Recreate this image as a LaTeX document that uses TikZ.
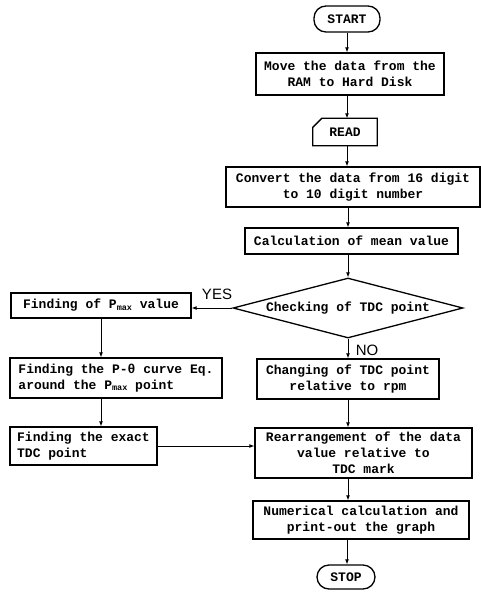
\documentclass[tikz,border=0pt]{standalone}
\usepackage{fontspec}
\setmainfont{Liberation Mono}
\newfontfamily\yesnofont{Liberation Sans}
\usetikzlibrary{arrows.meta,shapes.geometric}
\newcommand{\Pmx}{P\raisebox{-1.5pt}{\fontsize{8.5}{9}\selectfont max}}

\begin{document}
\begin{tikzpicture}[x=1pt, y=-1pt, every node/.style={font=\fontsize{13}{16}\selectfont\bfseries}, >={Latex[length=5pt,width=4pt]},
	box/.style={draw, line width=1.3pt, inner sep=2pt, align=center},
	term/.style={draw, line width=1.3pt, rounded corners=12pt, inner sep=2pt},
	arr/.style={->, line width=0.9pt},
	lab/.style={font=\yesnofont\fontsize{15}{15}\selectfont}]
	\useasboundingbox (0,0) rectangle (481,600);
	\node[term, minimum width=66, minimum height=26] (start) at (347,19) {START};
	\node[box, minimum width=188, minimum height=42] (move) at (350,74) {Move the data from the\\RAM to Hard Disk};
	\node[inner sep=0pt, minimum width=64, minimum height=27] (read) at (345,132) {READ};
	\draw[line width=1.3pt] ([xshift=9pt]read.north west) -- (read.north east) -- (read.south east) -- (read.south west) -- ([yshift=-9pt]read.north west) -- cycle;
	\node[box, minimum width=254, minimum height=40] (conv) at (353,187) {Convert the data from 16 digit\\to 10 digit number};
	\node[box, minimum width=213, minimum height=26] (calc) at (351.5,241) {Calculation of mean value};
	\node[draw, shape=diamond, line width=1.3pt, inner sep=0pt, aspect=3.8, minimum width=230, minimum height=60] (dia) at (348,308) {Checking of TDC point};
	\node[box, minimum width=180, minimum height=25] (pmax) at (101,305.5) {Finding of \Pmx{} value};
	\node[box, align=left, minimum width=212, minimum height=40] (pth) at (116,378) {Finding the P-θ curve Eq.\\around the \Pmx{} point};
	\node[box, align=left, minimum width=147, minimum height=38] (exact) at (83.5,446) {Finding the exact\\TDC point};
	\node[box, minimum width=182, minimum height=40] (chg) at (348,379) {Changing of TDC point\\relative to rpm};
	\node[box, minimum width=217, minimum height=50] (rearr) at (363.5,453) {Rearrangement of the data\\value relative to\\TDC mark};
	\node[box, minimum width=216, minimum height=38] (num) at (361,520) {Numerical calculation and\\print-out the graph};
	\node[term, minimum width=58, minimum height=24] (stop) at (346,577) {STOP};
	\node[lab] (yes) at (217,294) {YES};
	\node[lab] (no) at (367,350) {NO};
	\draw[arr] (start.south) -- (start.south |- move.north);
	\draw[arr] (move.south -| start.south) -- (read.north -| start.south);
	\draw[arr] (read.south -| start.south) -- (conv.north -| start.south);
	\draw[arr] (conv.south -| dia.north) -- (calc.north -| dia.north);
	\draw[arr] (calc.south -| dia.north) -- (dia.north);
	\draw[arr] (dia.west) -- (dia.west -| pmax.east);
	\draw[arr] (dia.south) -- (chg.north);
	\draw[arr] (pmax.south) -- (pmax.south |- pth.north);
	\draw[arr] (pth.south -| pmax.south) -- (exact.north -| pmax.south);
	\draw[arr] (exact.east) -- (exact.east -| rearr.west);
	\draw[arr] (chg.south) -- (chg.south |- rearr.north);
	\draw[arr] (rearr.south -| chg.south) -- (num.north -| chg.south);
	\draw[arr] (num.south -| start.south) -- (stop.north -| start.south);
\end{tikzpicture}
\end{document}
